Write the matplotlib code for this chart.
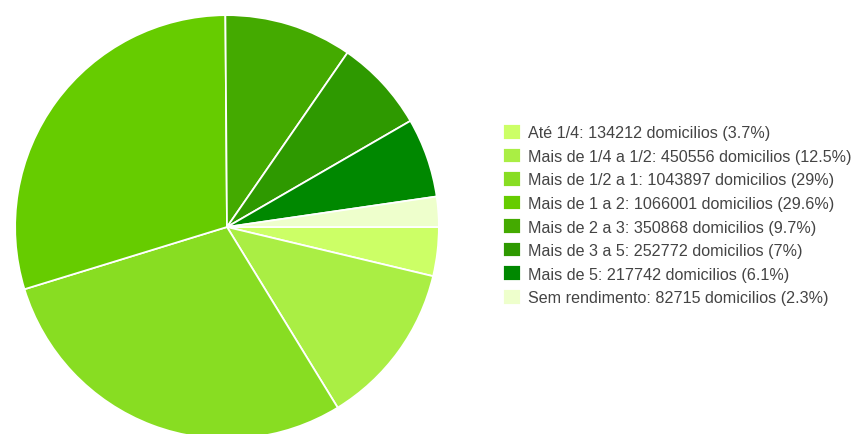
import matplotlib.pyplot as plt

labels = ['Até 1/4', 'Mais de 1/4 a 1/2', 'Mais de 1/2 a 1', 'Mais de 1 a 2',
          'Mais de 2 a 3', 'Mais de 3 a 5', 'Mais de 5', 'Sem rendimento']
domicilios = [134212, 450556, 1043897, 1066001, 350868, 252772, 217742, 82715]
percents = ['3.7%', '12.5%', '29%', '29.6%', '9.7%', '7%', '6.1%', '2.3%']
colors = ['#ccff66', '#aaee44', '#88dd22', '#66cc00',
          '#44aa00', '#2e9900', '#008800', '#eeffcc']

plt.rcParams['font.family'] = ['Liberation Sans', 'DejaVu Sans']

fig = plt.figure(figsize=(8.57, 4.35), dpi=100)
ax = fig.add_axes([13/857, -7/435, 428/857, 428/435])

wedges, _ = ax.pie(domicilios, colors=colors, startangle=0, counterclock=False,
                   radius=1, wedgeprops=dict(edgecolor='white', linewidth=1.3))
ax.set_xlim(-1.01, 1.01)
ax.set_ylim(-1.01, 1.01)
ax.set_aspect('equal')

legend_labels = ['{}: {} domicilios ({})'.format(l, v, p)
                 for l, v, p in zip(labels, domicilios, percents)]
fig.legend(wedges, legend_labels, loc='upper left', bbox_to_anchor=(503/857, 1 - 125/435),
           frameon=False, fontsize=11.6, labelcolor='#444444',
           handlelength=1.12, handleheight=1.12, handletextpad=0.45,
           labelspacing=0.45, borderaxespad=0, borderpad=0)

plt.savefig('out.png', dpi=100)
